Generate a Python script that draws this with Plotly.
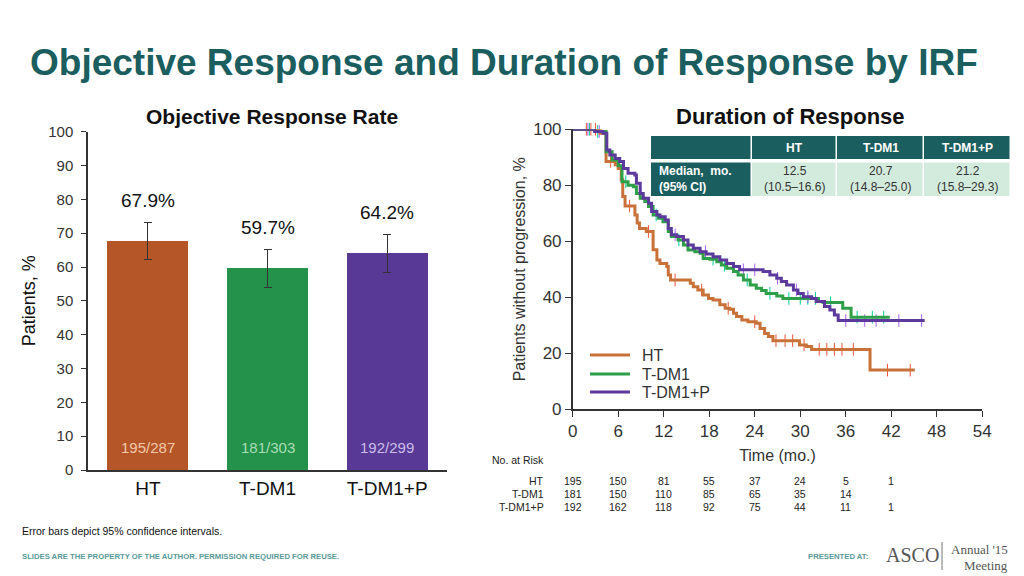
import plotly.graph_objects as go

# ---------------- data ----------------
arms = ["HT", "T-DM1", "T-DM1+P"]
orr = [67.9, 59.7, 64.2]
ci_low = [62.3, 54.0, 58.3]
ci_high = [73.2, 65.2, 69.7]
fractions = ["195/287", "181/303", "192/299"]

ht_t = [0, 3.6, 4.4, 5.6, 6.0, 6.4, 6.6, 6.9, 8.2, 8.5, 8.8, 9.7, 10.6, 11.1, 11.5, 12.4, 12.6, 12.9,
        15.5, 15.9, 16.5, 17.2, 17.9, 18.5, 19.4, 20.1, 20.7, 21.2, 21.6, 22.3, 23.1, 24.2, 24.7, 25.3,
        25.8, 26.4, 29.9, 30.8, 31.5, 39.2, 45.1]
ht_s = [100, 98.6, 88.5, 87.3, 86.0, 82.0, 76.0, 72.6, 69.4, 66.5, 64.6, 63.5, 57.0, 53.3, 52.1, 51.0, 48.0, 46.2,
        45.0, 43.8, 42.6, 40.8, 39.6, 39.0, 37.3, 36.1, 35.7, 34.3, 33.1, 31.9, 31.3, 30.7, 28.9, 27.1,
        26.0, 24.5, 23.0, 22.4, 21.4, 14.0, 14.0]

tdm1_t = [0, 2.9, 4.4, 5.2, 6.0, 6.5, 7.3, 8.0, 8.4, 8.9, 9.5, 10.0, 10.6, 11.3, 11.9, 12.6, 13.0, 13.9, 14.6,
          15.2, 16.1, 16.8, 17.2, 18.1, 19.0, 19.6, 20.3, 21.2, 21.8, 22.5, 23.4, 24.2, 24.9, 25.5, 26.9,
          27.7, 32.4, 33.0, 35.6, 36.7, 41.8]
tdm1_s = [100, 99.2, 92.0, 89.0, 87.0, 81.3, 80.0, 79.5, 77.1, 75.4, 74.2, 72.4, 69.4, 68.2, 67.0, 63.5, 61.7, 60.5, 58.7,
          56.9, 56.3, 55.7, 53.9, 53.6, 52.7, 51.5, 50.4, 49.2, 48.0, 46.2, 44.4, 43.2, 42.4, 41.4, 40.5,
          39.6, 38.5, 38.1, 36.1, 32.9, 32.9]

tdm1p_t = [0, 2.9, 4.0, 4.5, 4.9, 5.6, 6.2, 6.7, 7.3, 8.2, 8.4, 8.9, 9.3, 10.0, 10.4, 11.1, 11.5, 12.2, 12.6,
           13.0, 13.7, 14.6, 15.2, 15.9, 16.8, 17.6, 18.5, 19.4, 20.3, 21.2, 22.0, 25.1, 26.0, 26.9, 27.5,
           28.2, 29.1, 29.7, 30.4, 31.5, 32.1, 33.2, 33.9, 34.5, 35.0, 46.4]
tdm1p_s = [100, 99.2, 98.6, 92.6, 90.8, 89.6, 88.5, 86.0, 84.3, 83.7, 80.7, 77.1, 75.4, 73.6, 70.6, 69.4, 68.8, 67.6, 64.6,
           62.3, 61.7, 60.5, 58.7, 57.5, 56.3, 55.5, 54.5, 53.3, 52.1, 51.0, 49.8, 49.2, 48.0, 46.8, 45.6,
           44.4, 42.6, 41.4, 40.2, 39.6, 38.5, 36.7, 35.5, 33.7, 31.7, 31.7]

# censoring times (estimated)
ht_cens = [1.8, 2.4, 3.0, 5.0, 7.5, 10.0, 13.5, 17.0, 20.5, 24.0, 26.8, 28.0, 29.0, 30.5, 32.5, 33.5, 34.5, 35.5, 37.0, 41.5, 44.5]
tdm1_cens = [2.2, 3.3, 7.0, 11.0, 14.0, 18.5, 20.0, 23.0, 26.0, 28.5, 30.0, 31.0, 32.0, 34.0, 37.5, 39.5, 41.0]
tdm1p_cens = [2.0, 3.5, 9.0, 13.5, 17.5, 22.5, 24.0, 27.0, 29.5, 31.0, 36.0, 38.5, 40.0, 43.0, 46.0]

xticks = [0, 6, 12, 18, 24, 30, 36, 42, 48, 54]
risk_times = [0, 6, 12, 18, 24, 30, 36, 42]
risk_ht = [195, 150, 81, 55, 37, 24, 5, 1]
risk_tdm1 = [181, 150, 110, 85, 65, 35, 14]
risk_tdm1p = [192, 162, 118, 92, 75, 44, 11, 1]

table_cols = ["HT", "T-DM1", "T-DM1+P"]
table_median = ["12.5", "20.7", "21.2"]
table_ci = ["(10.5–16.6)", "(14.8–25.0)", "(15.8–29.3)"]

# ---------------- styles ----------------
bar_colors = ["#B55628", "#24924A", "#583A96"]
frac_colors = ["#F2C9A8", "#A9DDB6", "#CBBDEB"]
line_colors = ["#C8723A", "#2F9E48", "#5C3A9C"]
TEAL = "#1B5E60"
FONT = "Arial, Liberation Sans, sans-serif"
AXC = "#333333"

W, H = 1024, 576
OFF = 8  # page body margin offset
def px(x): return (x - OFF) / W
def py(y): return 1 - (y - OFF) / H

def note(x, y, text, size, color="#222", xanchor="center", family=FONT, xref="paper"):
    fig.add_annotation(x=x if xref != "paper" else px(x), y=py(y), xref=xref, yref="paper", text=text,
                       showarrow=False, xanchor=xanchor, yanchor="middle",
                       font=dict(size=size, color=color, family=family))

fig = go.Figure()

# ---- left: bar chart ----
fig.add_trace(go.Bar(
    x=arms, y=orr, marker=dict(color=bar_colors, line=dict(width=0)), width=0.675,
    error_y=dict(type="data", symmetric=False,
                 array=[h - v for h, v in zip(ci_high, orr)],
                 arrayminus=[v - l for l, v in zip(ci_low, orr)],
                 color="#333333", thickness=1.2, width=4),
    xaxis="x", yaxis="y", showlegend=False, hoverinfo="skip"))

for a, v, h in zip(arms, orr, ci_high):
    fig.add_annotation(x=a, y=h, xref="x", yref="y", text=f"{v}%", showarrow=False,
                       xanchor="center", yanchor="bottom", yshift=9, font=dict(size=19, color="#111", family=FONT))
for a, f, c in zip(arms, fractions, frac_colors):
    fig.add_annotation(x=a, y=0, xref="x", yref="y", text=f, showarrow=False,
                       xanchor="center", yanchor="middle", yshift=23, font=dict(size=15, color=c, family=FONT))

# ---- right: KM curves ----
def step_val(ts, ss, t):
    v = ss[0]
    for ti, si in zip(ts, ss):
        if ti <= t:
            v = si
    return v

series = [("HT", ht_t, ht_s, ht_cens), ("T-DM1", tdm1_t, tdm1_s, tdm1_cens), ("T-DM1+P", tdm1p_t, tdm1p_s, tdm1p_cens)]
for (name, ts, ss, cens), col in zip(series, line_colors):
    fig.add_trace(go.Scatter(
        x=cens, y=[step_val(ts, ss, c) for c in cens], mode="markers", xaxis="x2", yaxis="y2",
        marker=dict(symbol="line-ns-open", size=9, line=dict(color="#C8C8C8", width=1)),
        showlegend=False, hoverinfo="skip", cliponaxis=False))
for (name, ts, ss, cens), col in zip(series, line_colors):
    fig.add_trace(go.Scatter(
        x=ts, y=ss, mode="lines", line=dict(shape="hv", color=col, width=3), name=name,
        xaxis="x2", yaxis="y2", cliponaxis=False, hoverinfo="skip", showlegend=False))

# legend (drawn)
for (name, *_), col, yy in zip(series, line_colors, [355, 374, 392]):
    fig.add_shape(type="line", xref="paper", yref="paper", x0=px(590), x1=px(630), y0=py(yy), y1=py(yy),
                  line=dict(color=col, width=3))
    note(640, yy, name, 16, "#333", xanchor="left")

# median table
tx = [651, 752, 837, 924, 1011]
r1 = (136, 159)
r2 = (162.5, 196)
for i in range(4):
    fig.add_shape(type="rect", xref="paper", yref="paper",
                  x0=px(tx[i]), x1=px(tx[i + 1] - 1.5), y0=py(r1[1]), y1=py(r1[0]),
                  fillcolor=TEAL, line=dict(width=0), layer="above")
    fig.add_shape(type="rect", xref="paper", yref="paper",
                  x0=px(tx[i]), x1=px(tx[i + 1] - 1.5), y0=py(r2[1]), y1=py(r2[0]),
                  fillcolor=TEAL if i == 0 else "#D3EBDD", line=dict(width=0), layer="above")
for i, c in enumerate(table_cols):
    cx = (tx[i + 1] + tx[i + 2]) / 2
    note(cx, (r1[0] + r1[1]) / 2, f"<b>{c}</b>", 12, "white")
    note(cx, 171, table_median[i], 12, "#333")
    note(cx, 187, table_ci[i], 12, "#333")
note(657, 171, "<b>Median,  mo.</b>", 12, "white", xanchor="left")
note(657, 187, "<b>(95% CI)</b>", 12, "white", xanchor="left")

# number at risk
note(490, 460, "No. at Risk", 10.5, "#222", xanchor="left")
for lab, vals, yy in [("HT", risk_ht, 481), ("T-DM1", risk_tdm1, 494), ("T-DM1+P", risk_tdm1p, 507)]:
    note(546, yy, lab, 10.5, "#222", xanchor="right")
    for t, v in zip(risk_times, vals):
        note(t, yy, str(v), 10.5, "#222", xref="x2")

# titles
note(504, 62, "<b>Objective Response and Duration of Response by IRF</b>", 37, TEAL)
note(272, 116, "<b>Objective Response Rate</b>", 21, "#111")
note(790, 116, "<b>Duration of Response</b>", 22, "#111")

# footer
note(20, 531, "Error bars depict 95% confidence intervals.", 10.5, "#111", xanchor="left")
note(20, 556, "<b>SLIDES ARE THE PROPERTY OF THE AUTHOR. PERMISSION REQUIRED FOR REUSE.</b>", 7.7, "#5A9A9A", xanchor="left")
note(806, 556, "<b>PRESENTED AT:</b>", 7.7, "#5A9A9A", xanchor="left")
note(884, 555, "ASCO", 20, "#555", xanchor="left", family="Liberation Serif, serif")
fig.add_shape(type="line", xref="paper", yref="paper", x0=px(942), x1=px(942), y0=py(570), y1=py(542),
              line=dict(color="#777", width=1))
note(1010, 549, "Annual '15", 13, "#555", xanchor="right", family="Liberation Serif, serif")
note(1010, 565, "Meeting", 13, "#555", xanchor="right", family="Liberation Serif, serif")

fig.update_layout(
    width=W, height=H, margin=dict(l=0, r=0, t=0, b=0, autoexpand=False),
    paper_bgcolor="white", plot_bgcolor="white",
    font=dict(family=FONT, color=AXC),
    bargap=0,
    xaxis=dict(domain=[px(88), px(447)], showline=True, linecolor=AXC, linewidth=1.5, ticks="",
               tickfont=dict(size=19, color="#111"), showgrid=False, anchor="y", fixedrange=True,
               automargin=False),
    yaxis=dict(domain=[py(470), py(131.7)], range=[0, 100], dtick=10, showline=True, linecolor=AXC,
               linewidth=1.5, ticks="outside", ticklen=5, tickcolor=AXC, showgrid=False, zeroline=False,
               tickfont=dict(size=15, color="#333"), anchor="x", automargin=False, ticklabelstandoff=5,
               title=dict(text="Patients, %", font=dict(size=18, color="#111"), standoff=8)),
    xaxis2=dict(domain=[px(572.7), px(982.3)], range=[0, 54], tickvals=xticks, showline=True, linecolor=AXC,
                linewidth=1.5, ticks="outside", ticklen=6, tickcolor=AXC, showgrid=False, zeroline=False,
                tickfont=dict(size=17, color="#333"), anchor="y2", automargin=False,
                title=dict(text="Time (mo.)", font=dict(size=16, color="#333"), standoff=9)),
    yaxis2=dict(domain=[py(409.3), py(129.3)], range=[0, 100], dtick=20, showline=True, linecolor=AXC,
                linewidth=1.5, ticks="outside", ticklen=6, tickcolor=AXC, showgrid=False, zeroline=False,
                tickfont=dict(size=17, color="#333"), anchor="x2", automargin=False,
                title=dict(text="Patients without progression, %", font=dict(size=16, color="#333"), standoff=4)),
    showlegend=False,
)

fig.write_html("out.html")
